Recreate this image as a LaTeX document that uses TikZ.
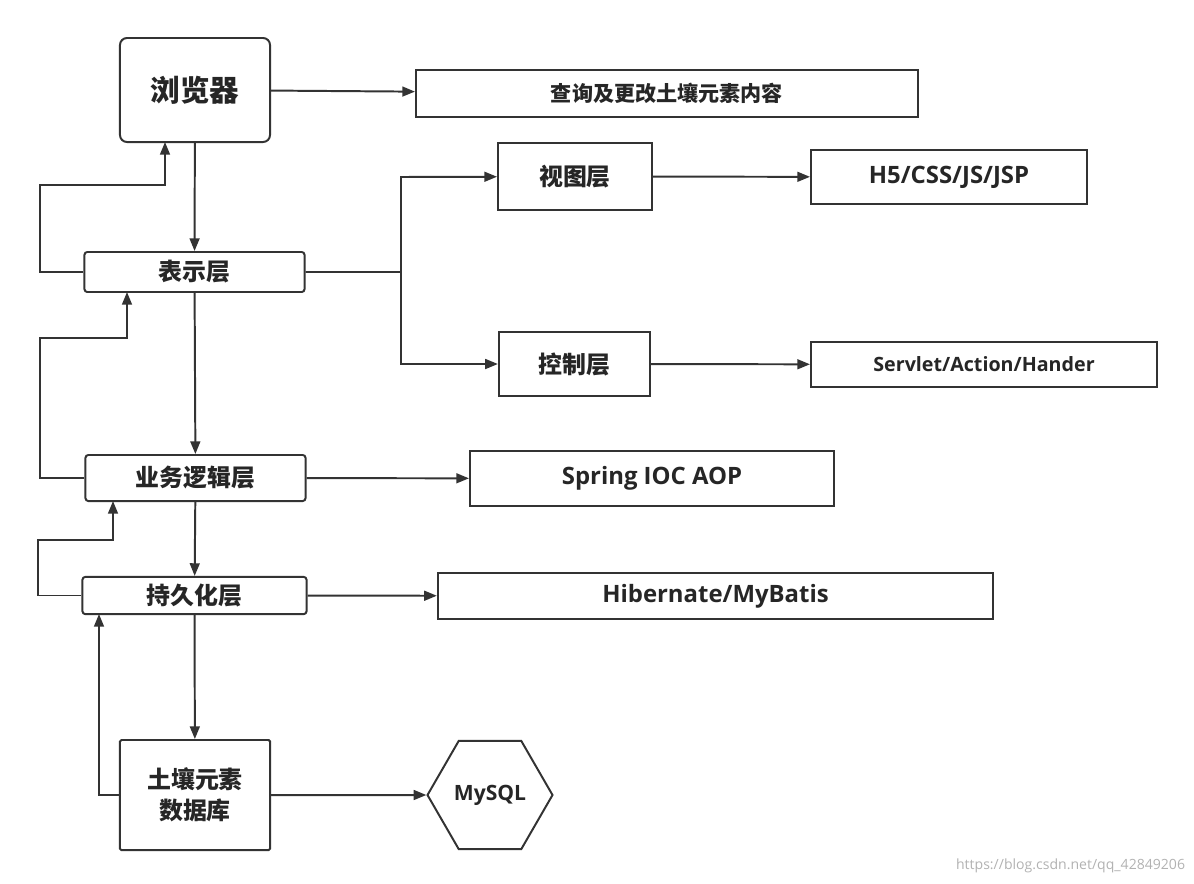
\documentclass[tikz,border=0pt]{standalone}
\usepackage{fontspec}
\setmainfont{Open Sans}
\newfontfamily\cjk{Noto Sans CJK SC}
\usetikzlibrary{shapes.geometric,arrows.meta}
\tikzset{
  box/.style={draw=black!80, line width=1.4pt, fill=white, font=\cjk\bfseries, text=black!85, inner sep=0pt},
  layer/.style={box, rounded corners=2pt},
  link/.style={draw=black!80, line width=1.4pt, -{Triangle[length=9pt,width=7pt]}}
}
\begin{document}
\begin{tikzpicture}[x=0.025cm, y=-0.025cm]
\useasboundingbox (0,0) rectangle (1194,883);
% left column
\node (browser) [layer, rounded corners=5pt, minimum width=3.75cm, minimum height=2.6cm, font=\cjk\bfseries\fontsize{21}{24}\selectfont] at (195,90) {浏览器};
\node (present) [layer, minimum width=5.5cm, minimum height=1cm, font=\cjk\bfseries\fontsize{17}{20}\selectfont] at (194.5,272) {表示层};
\node (logic) [layer, minimum width=5.5cm, minimum height=1.15cm, font=\cjk\bfseries\fontsize{17}{20}\selectfont] at (195.5,478) {业务逻辑层};
\node (persist) [layer, minimum width=5.6cm, minimum height=0.93cm, font=\cjk\bfseries\fontsize{17}{20}\selectfont] at (194.5,595.5) {持久化层};
\node (db) [layer, rounded corners=1pt, minimum width=3.75cm, minimum height=2.75cm, align=center, font=\cjk\bfseries\fontsize{17}{22}\selectfont] at (195,795) {土壤元素\\数据库};
% middle column
\node (view) [box, minimum width=3.85cm, minimum height=1.68cm, font=\cjk\bfseries\fontsize{17}{20}\selectfont] at (575,176.5) {视图层};
\node (ctrl) [box, minimum width=3.78cm, minimum height=1.6cm, font=\cjk\bfseries\fontsize{17}{20}\selectfont] at (574.5,364) {控制层};
\node (mysql) [box, regular polygon, regular polygon sides=6, minimum size=3.125cm, font=\bfseries\fontsize{15}{18}\selectfont] at (490,795) {MySQL};
% right column
\node (query) [box, minimum width=12.55cm, minimum height=1.18cm, font=\cjk\bfseries\fontsize{15}{18}\selectfont] at (667,93.5) {查询及更改土壤元素内容};
\node (front) [box, minimum width=6.9cm, minimum height=1.35cm, font=\bfseries\fontsize{17}{20}\selectfont] at (949,177) {H5/CSS/JS/JSP};
\node (servlet) [box, minimum width=8.65cm, minimum height=1.13cm, font=\bfseries\fontsize{14}{17}\selectfont] at (984,364.5) {Servlet/Action/Hander};
\node (spring) [box, minimum width=9.1cm, minimum height=1.38cm, font=\bfseries\fontsize{17}{20}\selectfont] at (652,478.5) {Spring IOC AOP};
\node (orm) [box, minimum width=13.88cm, minimum height=1.15cm, font=\bfseries\fontsize{17}{20}\selectfont] at (715.5,596) {Hibernate/MyBatis};
\node (mark) [text=black!30, font=\fontsize{10}{12}\selectfont, anchor=south east] at (1190,878) {https://blog.csdn.net/qq\_42849206};

% downward flow
\draw[link] (browser) -- (query);
\draw[link] (browser) -- (present);
\draw[link] (present) -- (logic);
\draw[link] (logic) -- (persist);
\draw[link] (persist) -- (db);
% side outputs
\draw[link] (present.east) -| (401,177) -- (view);
\draw[link] (present.east) -| (401,364) -- (ctrl);
\draw[link] (view) -- (front);
\draw[link] (ctrl) -- (servlet);
\draw[link] (logic) -- (spring);
\draw[link] (persist) -- (orm);
\draw[link] (db) -- (mysql);
% feedback
\draw[link] (present.west) -| (40,185) -| (165,142);
\draw[link] (logic.west) -| (40,338) -| (127,292);
\draw[link] (persist.west) -| (38,540) -| (113,501);
\draw[link] (db.west) -| (99,614);
\end{tikzpicture}
\end{document}
